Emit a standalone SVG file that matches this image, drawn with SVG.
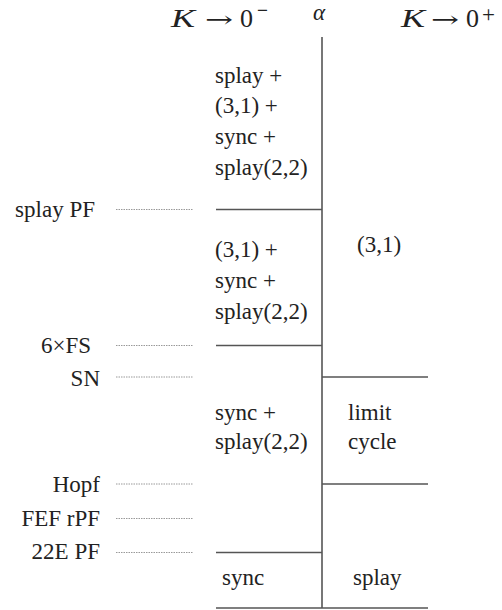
<svg xmlns="http://www.w3.org/2000/svg" width="502" height="610" viewBox="0 0 502 610">
<style>
text{font-family:"Liberation Serif","Times New Roman",serif;font-size:23px;fill:#222}
.hdr{font-size:26px}
.it{font-style:italic}
.arr{font-family:"DejaVu Serif",serif;font-size:22px}
.end{text-anchor:end}
.solid{stroke:#555;stroke-width:1.6;fill:none}
.dot{stroke:#999;stroke-width:1;stroke-dasharray:1.5 1;fill:none}
</style>
<rect width="502" height="610" fill="#fff"/>
<g id="header">
<text class="hdr it" x="171" y="27" textLength="24" lengthAdjust="spacingAndGlyphs">K</text>
<text class="arr" x="205" y="27" textLength="28" lengthAdjust="spacingAndGlyphs">→</text>
<text class="hdr" x="240" y="27">0</text>
<text x="257" y="18" font-size="16" textLength="11" lengthAdjust="spacingAndGlyphs">−</text>
<text class="it" x="313" y="20" font-size="22">α</text>
<text class="hdr it" x="401" y="27" textLength="24" lengthAdjust="spacingAndGlyphs">K</text>
<text class="arr" x="431" y="27" textLength="28" lengthAdjust="spacingAndGlyphs">→</text>
<text class="hdr" x="466" y="27">0</text>
<text x="482" y="22" font-size="26">+</text>
</g>
<g id="connectors">
<line class="solid" x1="322" y1="37" x2="322" y2="608"/>
<line class="solid" x1="216" y1="209.5" x2="322" y2="209.5"/>
<line class="solid" x1="216" y1="345.5" x2="322" y2="345.5"/>
<line class="solid" x1="216" y1="552.5" x2="322" y2="552.5"/>
<line class="solid" x1="322" y1="377" x2="428" y2="377"/>
<line class="solid" x1="322" y1="484" x2="428" y2="484"/>
<line class="solid" x1="216" y1="608" x2="428" y2="608"/>
<line class="dot" x1="116" y1="209.5" x2="193" y2="209.5"/>
<line class="dot" x1="116" y1="345.5" x2="193" y2="345.5"/>
<line class="dot" x1="116" y1="377" x2="193" y2="377"/>
<line class="dot" x1="116" y1="484" x2="193" y2="484"/>
<line class="dot" x1="116" y1="518.5" x2="193" y2="518.5"/>
<line class="dot" x1="116" y1="552.5" x2="193" y2="552.5"/>
</g>
<g id="labels">
<text class="end" x="95" y="217">splay PF</text>
<text class="end" x="91" y="353">6×FS</text>
<text class="end" x="100" y="386">SN</text>
<text class="end" x="100" y="492">Hopf</text>
<text class="end" x="100" y="526">FEF rPF</text>
<text class="end" x="100" y="559">22E PF</text>
</g>
<g id="region-top-left">
<text x="215" y="83">splay +</text>
<text x="215" y="113">(3,1) +</text>
<text x="215" y="144">sync +</text>
<text x="215" y="175">splay(2,2)</text>
</g>
<g id="region-mid-left">
<text x="215" y="257">(3,1) +</text>
<text x="215" y="288">sync +</text>
<text x="215" y="319">splay(2,2)</text>
</g>
<g id="region-top-right">
<text x="357" y="252">(3,1)</text>
</g>
<g id="region-low-left">
<text x="215" y="420">sync +</text>
<text x="215" y="449">splay(2,2)</text>
</g>
<g id="region-low-right">
<text x="348" y="420">limit</text>
<text x="348" y="449">cycle</text>
</g>
<g id="region-bottom">
<text x="222" y="585">sync</text>
<text x="353" y="585">splay</text>
</g>
</svg>
